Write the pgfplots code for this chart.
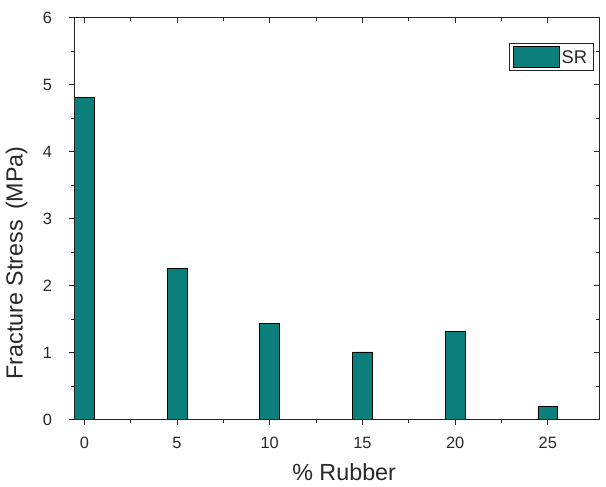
\documentclass[border=0pt]{standalone}
\usepackage{pgfplots}
\pgfplotsset{compat=1.18}
\usepackage{fontspec}
\setmainfont{Liberation Sans}
\definecolor{barteal}{RGB}{12,126,124}
\definecolor{txt}{RGB}{40,40,40}
\begin{document}
\begin{tikzpicture}
\pgfplotsset{
  common/.style={
    scale only axis, width=529pt, height=405pt,
    xmin=-0.535, xmax=27.77, ymin=0, ymax=6,
    xtick={0,5,10,15,20,25}, ytick={0,1,2,3,4,5,6},
    minor x tick num=1, minor y tick num=1,
    major tick length=5pt, minor tick length=3pt,
    axis line style={line width=0.8pt, black!85},
    every tick/.style={line width=0.8pt, black!85},
  }
}
\begin{axis}[common, name=main,
  tick align=outside, xtick pos=left, ytick pos=left,
  /pgf/number format/assume math mode=true,
  ticklabel style={font=\fontsize{16.5}{19}\selectfont, text=txt},
  xticklabel style={yshift=-9pt},
  yticklabel style={xshift=-14pt},
  xlabel={\% Rubber},
  ylabel={Fracture Stress\, (MPa)},
  xlabel style={at={(axis description cs:0.514,-0.131)}, anchor=center, font=\fontsize{23.5}{28}\selectfont, text=txt},
  ylabel style={at={(axis description cs:-0.11,0.39)}, anchor=center, rotate=0, font=\fontsize{23.5}{28}\selectfont, text=txt},
  legend style={at={(0.989,0.938)}, anchor=north east, draw=black!85, line width=0.8pt,
    font=\fontsize{18.5}{21}\selectfont, text=txt, inner xsep=4pt, inner ysep=3pt},
  legend image code/.code={\draw[#1, line width=0.6pt] (0pt,-9pt) rectangle (46pt,12pt);},
  legend cell align=left,
]
\addplot[ybar, bar width=1.07, fill=barteal, draw=black, line width=0.7pt]
  coordinates {(0,4.81) (5,2.26) (10,1.44) (15,1.01) (20,1.32) (25,0.20)};
\addlegendentry{SR}
\end{axis}
\begin{axis}[common,
  tick align=inside, xtick pos=right, ytick pos=right,
  xticklabels={}, yticklabels={},
]
\end{axis}
\path (main.south west) ++(-75pt,-67pt) rectangle ([xshift=2pt,yshift=18pt]main.north east);
\end{tikzpicture}
\end{document}
